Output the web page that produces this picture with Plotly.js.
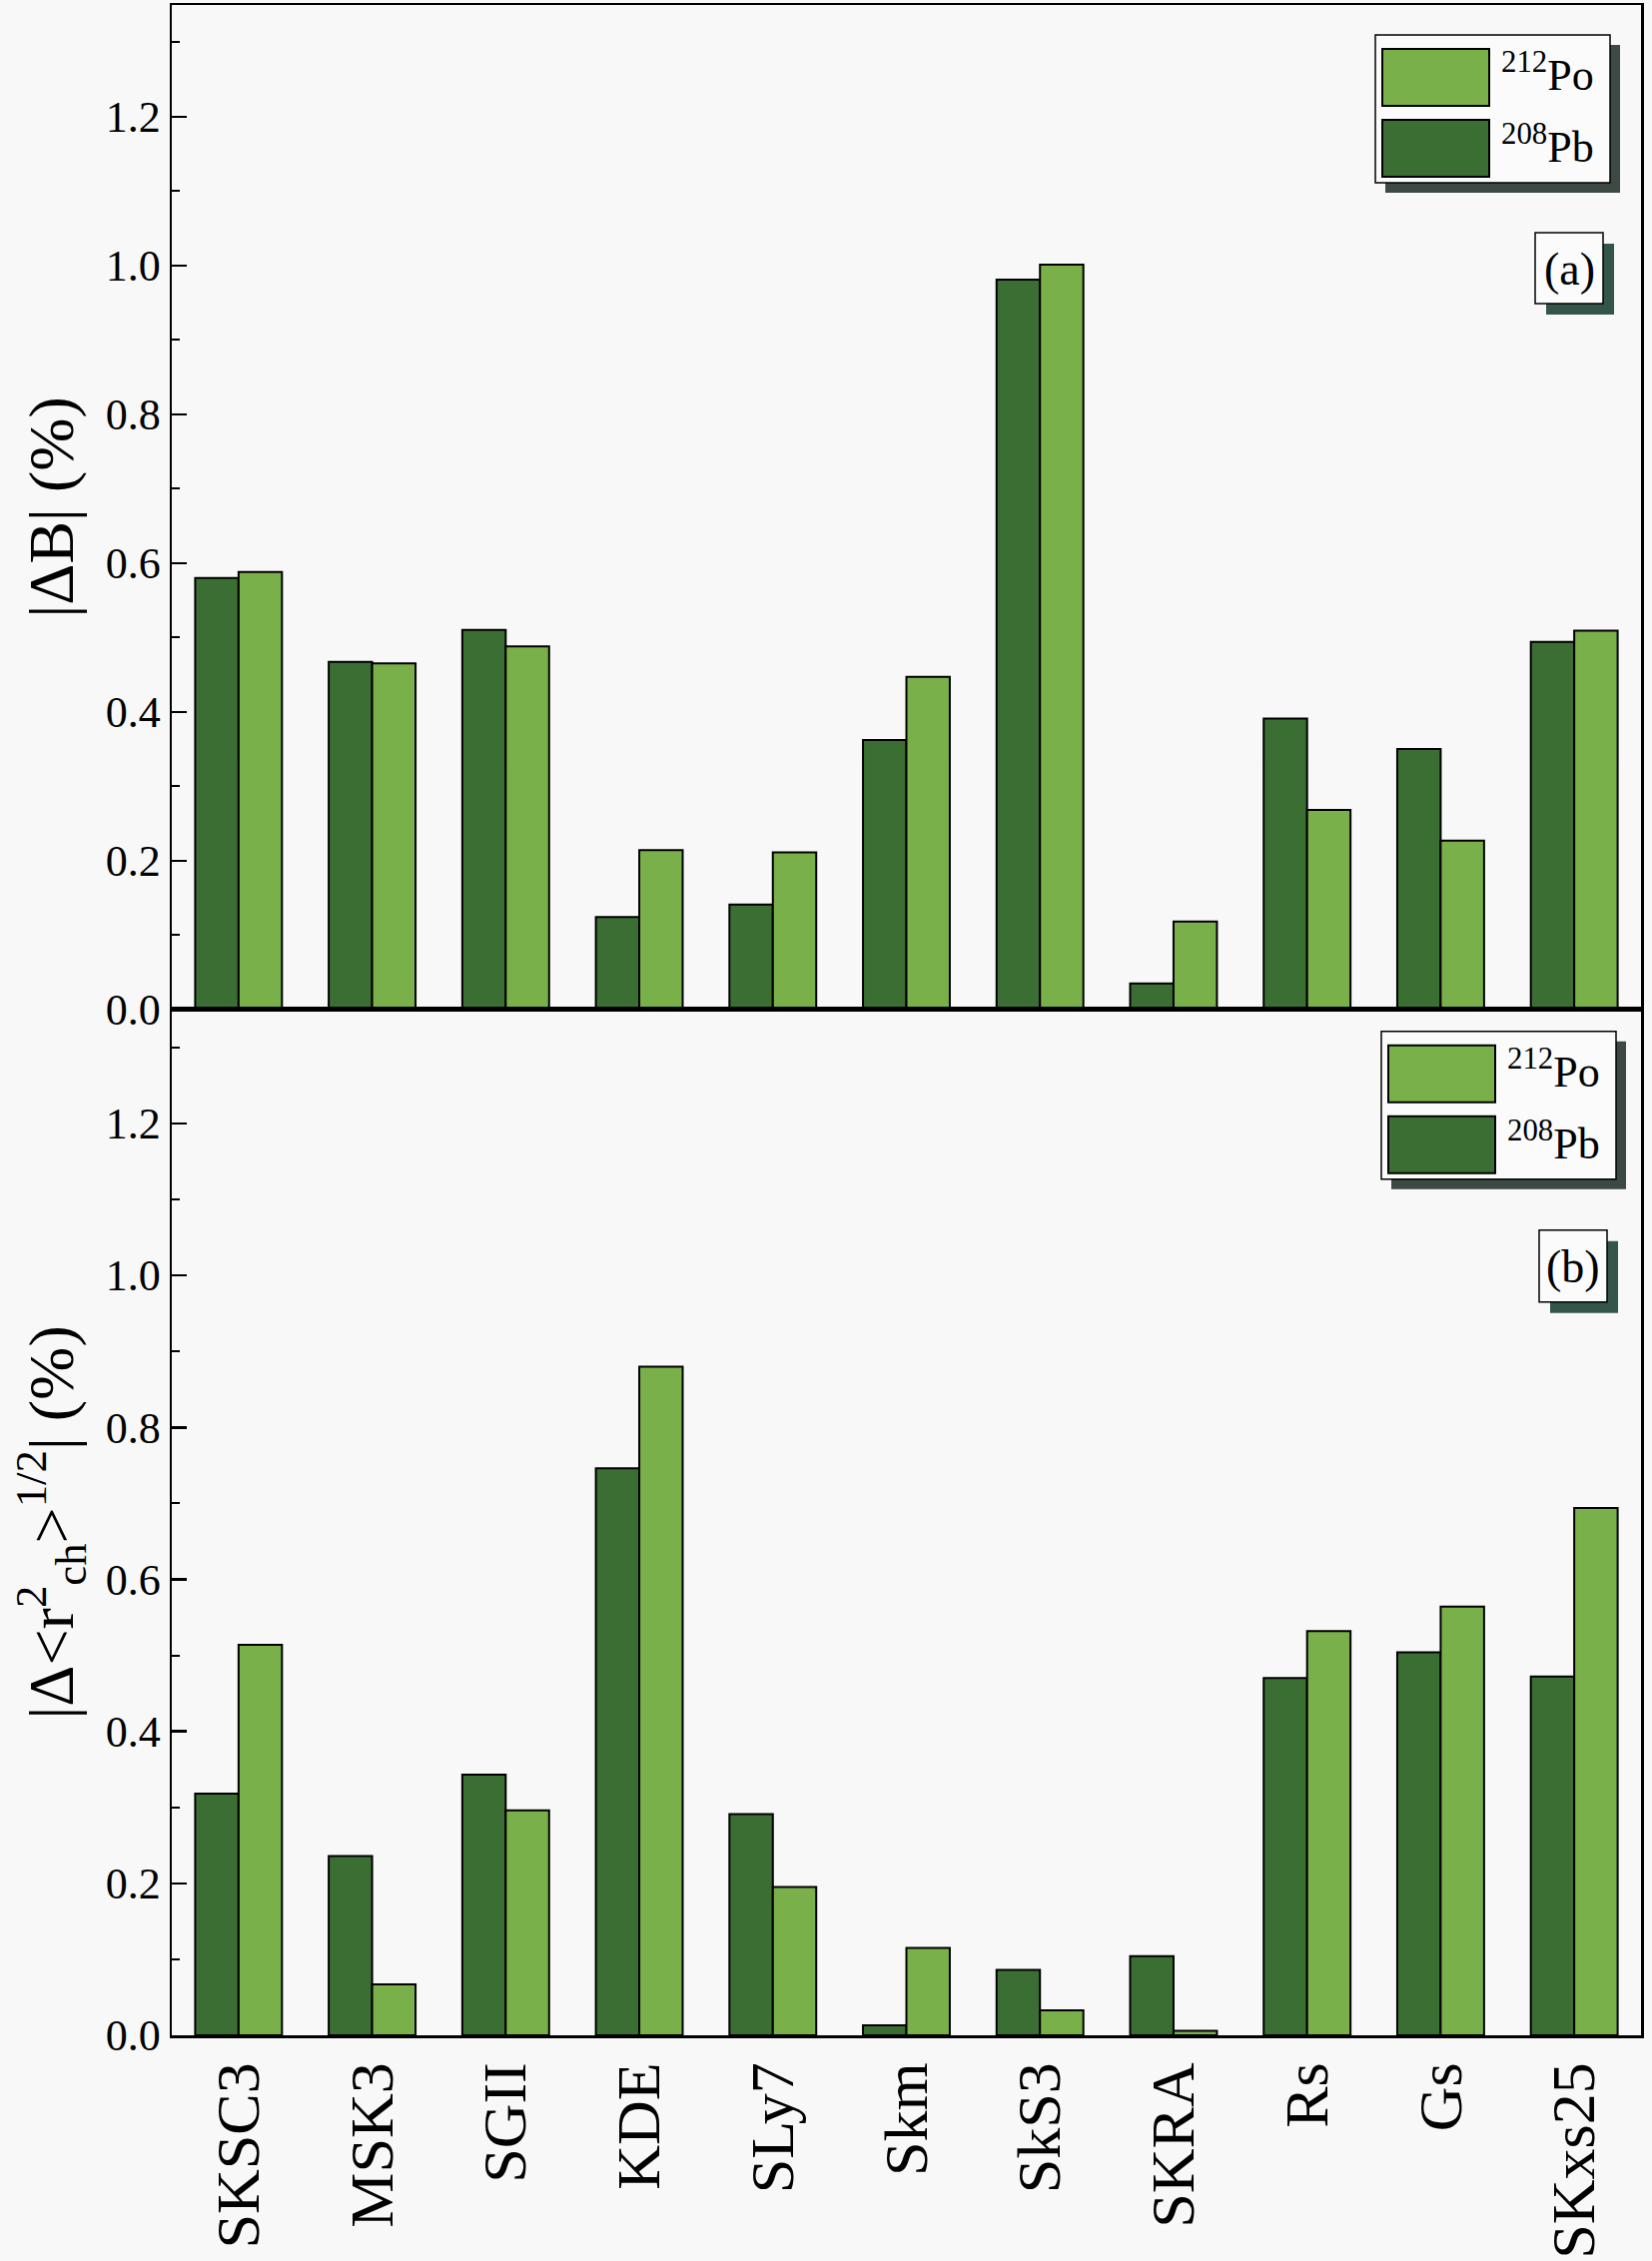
<!DOCTYPE html>
<html>
<head>
<meta charset="utf-8">
<script src="https://cdn.plot.ly/plotly-3.0.1.min.js"></script>
<style>
  body { margin: 0; background: #f8f8f8; }
  #chart { width: 1654px; height: 2264px; }
</style>
</head>
<body>
<div id="chart"></div>
<script>
// model names on the x axis
const categories = ["SKSC3", "MSK3", "SGII", "KDE", "SLy7", "Skm", "SkS3", "SKRA", "Rs", "Gs", "SKxs25"];

// panel (a): |dB| in %
const dB_Pb208 = [0.580, 0.467, 0.510, 0.124, 0.141, 0.362, 0.981, 0.035, 0.391, 0.350, 0.494];
const dB_Po212 = [0.588, 0.465, 0.488, 0.214, 0.211, 0.447, 1.001, 0.118, 0.268, 0.227, 0.509];

// panel (b): |d<r_ch^2>^1/2| in %
const dR_Pb208 = [0.318, 0.236, 0.343, 0.746, 0.291, 0.013, 0.086, 0.104, 0.470, 0.504, 0.472];
const dR_Po212 = [0.514, 0.067, 0.296, 0.880, 0.195, 0.115, 0.033, 0.006, 0.532, 0.564, 0.694];

const yTicks = [0.0, 0.2, 0.4, 0.6, 0.8, 1.0, 1.2];
const seriesNames = ["<sup>208</sup>Pb", "<sup>212</sup>Po"];

const colPb = "#3b6e32";
const colPo = "#79b04a";
const fontFam = "Liberation Serif, Times New Roman, serif";

// plot box in pixels (used only for the legend/label decorations)
const L = 172, R = 1643, T = 5, B = 2038.5;
function px(x) { return (x - L) / (R - L); }
function py(y) { return (B - y) / (B - T); }
const splitY = py(1011);

function barTrace(x, y, name, color, xa, ya) {
    return {
        x: x, y: y, type: "bar", name: name, xaxis: xa, yaxis: ya,
        marker: { color: color, line: { color: "#000", width: 2 } },
        showlegend: false, hoverinfo: "x+y"
    };
}

let data = [
    barTrace(categories, dB_Pb208, seriesNames[0], colPb, "x", "y"),
    barTrace(categories, dB_Po212, seriesNames[1], colPo, "x", "y"),
    barTrace(categories, dR_Pb208, seriesNames[0], colPb, "x2", "y2"),
    barTrace(categories, dR_Po212, seriesNames[1], colPo, "x2", "y2")
];

function yAxis(domain, anchor, title) {
    return {
        domain: domain, anchor: anchor, range: [0, 1.35],
        tickvals: yTicks, tickformat: ".1f",
        ticks: "inside", ticklen: 15, tickwidth: 2.5, tickcolor: "#000",
        minor: { dtick: 0.1, ticks: "inside", ticklen: 8, tickwidth: 2, tickcolor: "#000" },
        showline: true, mirror: true, linecolor: "#000", linewidth: 2.5,
        showgrid: false, zeroline: false,
        tickfont: { family: fontFam, size: 44, color: "#000" },
        title: { text: title, font: { family: fontFam, size: 64, color: "#000" }, standoff: 12 },
        automargin: false
    };
}

function xAxis(anchor, showLabels) {
    return {
        anchor: anchor, domain: [0, 1], type: "category",
        showline: true, mirror: true, linecolor: "#000", linewidth: 2.5,
        ticks: "", showgrid: false, zeroline: false,
        showticklabels: showLabels, tickangle: -90,
        tickfont: { family: fontFam, size: 62, color: "#000" },
        automargin: false
    };
}

// legend and panel label boxes with drop shadow, pixel corners -> paper coords
let shapes = [];
let annotations = [];
function shadowBox(x0, y0, x1, y1, off, shadowCol) {
    shapes.push({ type: "rect", xref: "paper", yref: "paper", layer: "above",
        x0: px(x0 + off), x1: px(x1 + off), y0: py(y0 + off), y1: py(y1 + off),
        fillcolor: shadowCol, line: { width: 0 } });
    shapes.push({ type: "rect", xref: "paper", yref: "paper", layer: "above",
        x0: px(x0), x1: px(x1), y0: py(y0), y1: py(y1),
        fillcolor: "#fbfbfb", line: { color: "#000", width: 1.5 } });
}
function swatch(x0, y0, x1, y1, color) {
    shapes.push({ type: "rect", xref: "paper", yref: "paper", layer: "above",
        x0: px(x0), x1: px(x1), y0: py(y0), y1: py(y1),
        fillcolor: color, line: { color: "#000", width: 2 } });
}
function label(x, y, text, size, anchor) {
    annotations.push({ xref: "paper", yref: "paper", x: px(x), y: py(y), text: text,
        showarrow: false, xanchor: anchor, yanchor: "middle",
        font: { family: fontFam, size: size, color: "#000" } });
}
function legendBlock(x0, y0) {
    shadowBox(x0, y0, x0 + 235, y0 + 148, 10, "#3d4a44");
    swatch(x0 + 7, y0 + 14, x0 + 114, y0 + 71, colPo);
    swatch(x0 + 7, y0 + 85, x0 + 114, y0 + 142, colPb);
    label(x0 + 124, y0 + 38, seriesNames[1], 44, "left");
    label(x0 + 124, y0 + 110, seriesNames[0], 44, "left");
}
legendBlock(1377, 35);
legendBlock(1383, 1033);
shadowBox(1537, 233, 1605, 304, 11, "#34564a");
label(1571, 270, "(a)", 46, "center");
shadowBox(1541, 1232, 1609, 1304, 11, "#34564a");
label(1575, 1269, "(b)", 46, "center");

let layout = {
    width: 1654, height: 2264,
    margin: { l: L, r: 1654 - R, t: T, b: 2264 - B },
    paper_bgcolor: "#f8f8f8", plot_bgcolor: "#f8f8f8",
    barmode: "group", bargap: 0.35, bargroupgap: 0,
    showlegend: false,
    xaxis: xAxis("y", false),
    yaxis: yAxis([splitY, 1], "x", "|ΔB| (%)"),
    xaxis2: xAxis("y2", true),
    yaxis2: yAxis([0, splitY], "x2", "|Δ&lt;r<sup>2</sup><sub>ch</sub>&gt;<sup>1/2</sup>| (%)"),
    shapes: shapes,
    annotations: annotations
};

Plotly.newPlot("chart", data, layout, { displayModeBar: false, staticPlot: true });
</script>
</body>
</html>
